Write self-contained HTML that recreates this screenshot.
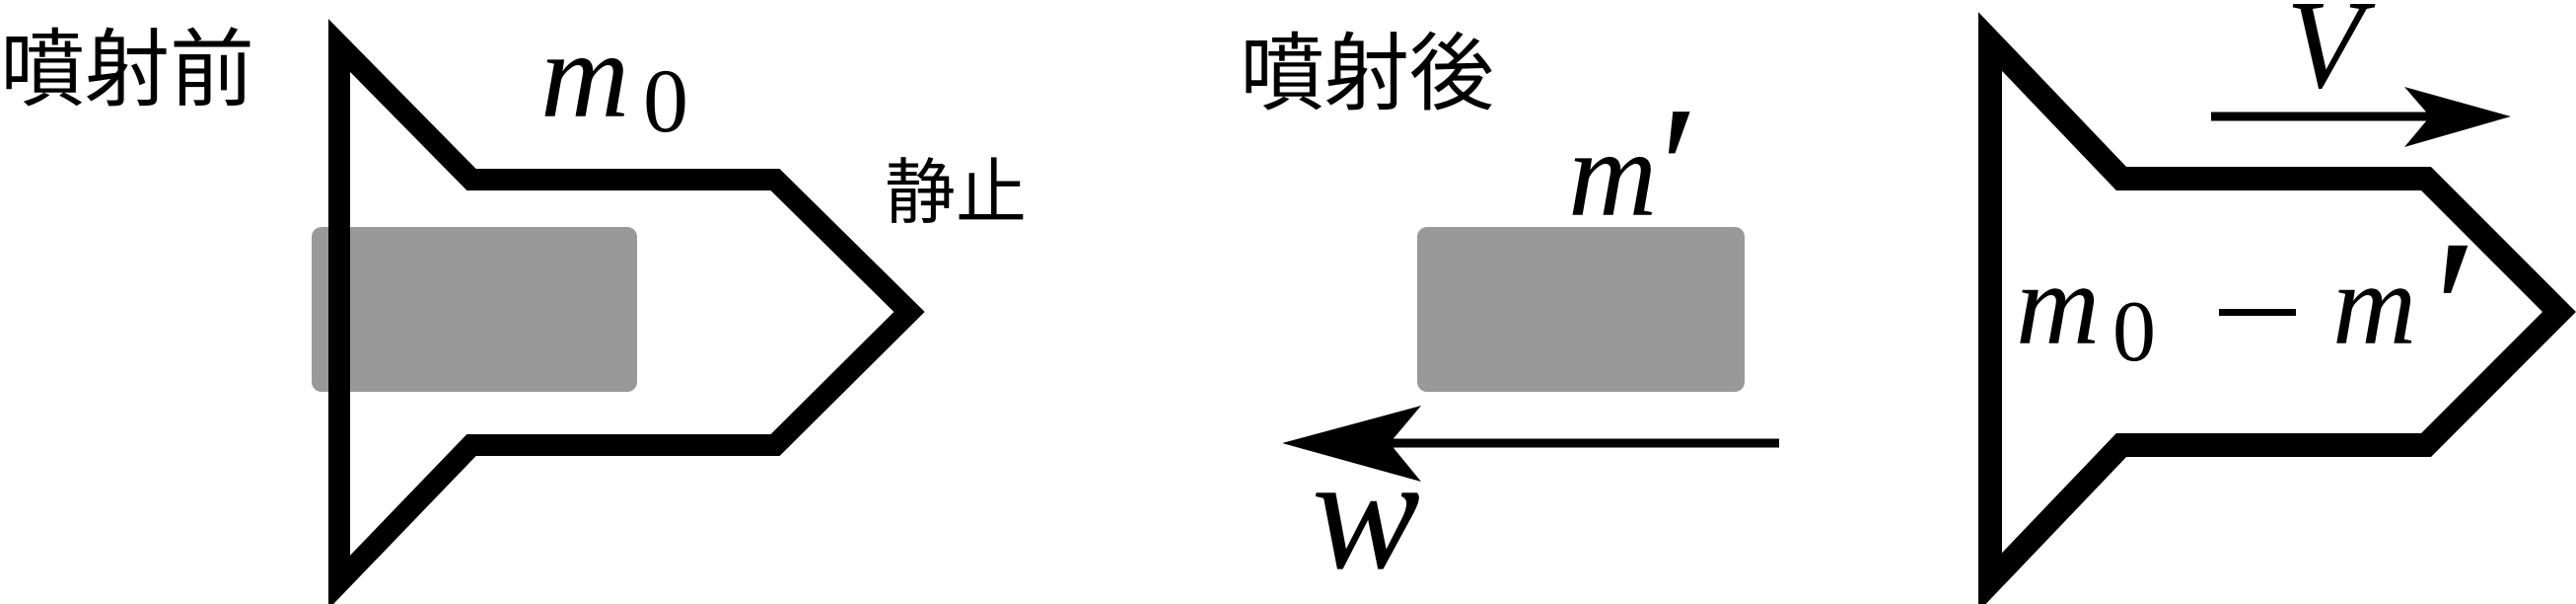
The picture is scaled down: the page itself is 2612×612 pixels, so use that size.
<!DOCTYPE html>
<html><head><meta charset="utf-8"><style>
html,body{margin:0;padding:0;background:#fff;}
svg{display:block;}
.jp{font-family:"Noto Sans CJK JP","Liberation Sans",sans-serif;}
.m{font-family:"Liberation Serif",serif;font-style:italic;}
.n{font-family:"Liberation Serif",serif;}
</style></head><body>
<svg width="2612" height="612" viewBox="0 0 2612 612" xmlns="http://www.w3.org/2000/svg">
<rect width="2612" height="612" fill="#fff"/>
<!-- before -->
<text class="jp" x="0" y="100" font-size="86">噴射前</text>
<rect x="316" y="230" width="330" height="167" rx="10" fill="#999"/>
<polygon points="344,46 478,182 786,182 922,316 786,451 478,451 344,590" fill="none" stroke="#000" stroke-width="22" stroke-linejoin="miter" stroke-miterlimit="10"/>
<text class="m" x="548" y="118" font-size="125">m</text>
<text class="n" x="652" y="133" font-size="92">0</text>
<text class="jp" x="897" y="220" font-size="72">静止</text>
<!-- after -->
<text class="jp" x="1257" y="104" font-size="86">噴射後</text>
<rect x="1437" y="230" width="332" height="167" rx="10" fill="#999"/>
<text class="m" x="1590" y="218" font-size="125">m</text>
<text class="m" x="1672" y="231" font-size="180">′</text>
<line x1="1804" y1="449" x2="1400" y2="449" stroke="#000" stroke-width="9"/>
<polygon points="1300,449 1441,411 1409,449 1441,488" fill="#000"/>
<text class="m" x="1330" y="575" font-size="165">w</text>
<!-- rocket after -->
<polygon points="2018,42 2151,181 2460,181 2595,316 2460,451 2151,451 2018,590" fill="none" stroke="#000" stroke-width="24" stroke-linejoin="miter" stroke-miterlimit="10"/>
<line x1="2242" y1="118" x2="2470" y2="118" stroke="#000" stroke-width="9"/>
<polygon points="2546,118 2438,88 2464,118 2438,149" fill="#000"/>
<text class="m" x="2318" y="88" font-size="128">V</text>
<text class="m" x="2044" y="348" font-size="118">m</text>
<text class="n" x="2142" y="365" font-size="88">0</text>
<rect x="2250" y="313" width="78" height="7" fill="#000"/>
<text class="m" x="2365" y="348" font-size="118">m</text>
<text class="m" x="2455" y="383" font-size="205">′</text>
</svg>
</body></html>
